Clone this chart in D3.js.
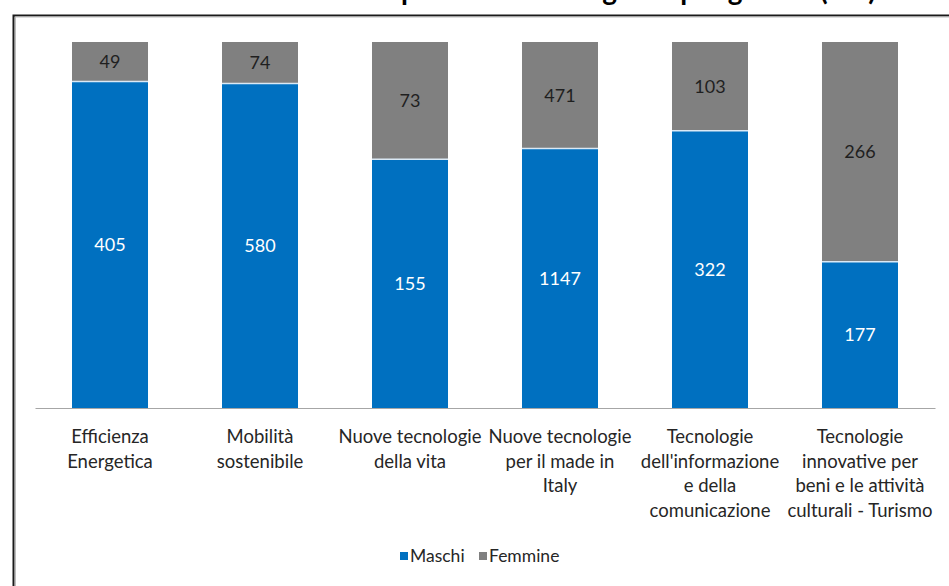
<!DOCTYPE html>
<html>
<head>
<meta charset="utf-8">
<script src="https://cdn.jsdelivr.net/npm/d3@7"></script>
<style>
  html, body { margin: 0; padding: 0; background: #fff; }
  svg { display: block; }
</style>
</head>
<body>
<svg id="chart" width="949" height="586"></svg>
<script>
const titleText = "Allievi iscritti per area tecnologica e per genere (v.a.)";
const categories = [
  "Efficienza Energetica",
  "Mobilità sostenibile",
  "Nuove tecnologie della vita",
  "Nuove tecnologie per il made in Italy",
  "Tecnologie dell'informazione e della comunicazione",
  "Tecnologie innovative per beni e le attività culturali - Turismo"
];
const categoryLines = [
  ["Efficienza", "Energetica"],
  ["Mobilità", "sostenibile"],
  ["Nuove tecnologie", "della vita"],
  ["Nuove tecnologie", "per il made in", "Italy"],
  ["Tecnologie", "dell'informazione", "e della", "comunicazione"],
  ["Tecnologie", "innovative per", "beni e le attività", "culturali - Turismo"]
];
const maschi = [405, 580, 155, 1147, 322, 177];
const femmine = [49, 74, 73, 471, 103, 266];
const seriesNames = ["Maschi", "Femmine"];
const seriesColors = ["#0070C0", "#808080"];

const svg = d3.select("#chart");
const W = 949, H = 586;
const font = "Lato, 'Open Sans', sans-serif";

// title (clipped at the top edge, as in the reference)
svg.append("text")
  .attr("x", 876).attr("y", 0)
  .attr("text-anchor", "end")
  .attr("font-family", font)
  .attr("font-weight", "bold")
  .attr("font-size", 28)
  .attr("fill", "#000")
  .text(titleText);

// frame
svg.append("path")
  .attr("d", `M13.5,${H} V15.5 H${W}`)
  .attr("fill", "none").attr("stroke", "#1a1a1a").attr("stroke-width", 2);
svg.append("path")
  .attr("d", `M15.5,${H} V17 H${W}`)
  .attr("fill", "none").attr("stroke", "#bdbdbd").attr("stroke-width", 1);

const x = d3.scaleBand()
  .domain(categories)
  .range([35, 935])
  .paddingInner(0.4933)
  .paddingOuter(0.2467);
const y = d3.scaleLinear().domain([0, 1]).range([408, 42]);

const data = categories.map((c, i) => {
  const tot = maschi[i] + femmine[i];
  return { cat: c, Maschi: maschi[i] / tot, Femmine: femmine[i] / tot, vals: [maschi[i], femmine[i]] };
});
const stacked = d3.stack().keys(seriesNames)(data);

const g = svg.append("g");
stacked.forEach((s, si) => {
  g.selectAll(null).data(s).enter().append("rect")
    .attr("x", d => x(d.data.cat))
    .attr("width", x.bandwidth())
    .attr("y", d => y(d[1]))
    .attr("height", d => y(d[0]) - y(d[1]))
    .attr("fill", seriesColors[si]);
  if (si === 1) {
    g.selectAll(null).data(s).enter().append("line")
      .attr("x1", d => x(d.data.cat))
      .attr("x2", d => x(d.data.cat) + x.bandwidth())
      .attr("y1", d => y(d[0]))
      .attr("y2", d => y(d[0]))
      .attr("stroke", "#dbe9f5").attr("stroke-width", 1.5);
  }
  g.selectAll(null).data(s).enter().append("text")
    .attr("x", d => x(d.data.cat) + x.bandwidth() / 2)
    .attr("y", d => (y(d[0]) + y(d[1])) / 2)
    .attr("dy", "0.35em")
    .attr("text-anchor", "middle")
    .attr("font-family", font)
    .attr("font-size", 18)
    .attr("fill", si === 0 ? "#ffffff" : "#1f1f1f")
    .text(d => d.data.vals[si]);
});

// axis
const axis = svg.append("g")
  .attr("transform", "translate(0,408)")
  .call(d3.axisBottom(x).tickSize(0).tickFormat(""));
axis.select(".domain").attr("stroke", "#a6a6a6").attr("stroke-width", 1.2);

const labels = svg.append("g");
categories.forEach((c, i) => {
  const cx = x(c) + x.bandwidth() / 2;
  const t = labels.append("text")
    .attr("x", cx)
    .attr("y", 443)
    .attr("text-anchor", "middle")
    .attr("font-family", font)
    .attr("font-size", 18.5)
    .attr("fill", "#262626");
  categoryLines[i].forEach((ln, j) => {
    t.append("tspan").attr("x", cx).attr("y", 443 + j * 24.5).text(ln);
  });
});

// legend
const legend = svg.append("g");
const legendX = [400, 479];
seriesNames.forEach((n, i) => {
  legend.append("rect")
    .attr("x", legendX[i]).attr("y", 552)
    .attr("width", 8).attr("height", 8)
    .attr("fill", seriesColors[i]);
  legend.append("text")
    .attr("x", legendX[i] + 10).attr("y", 562)
    .attr("font-family", font).attr("font-size", 17.5)
    .attr("fill", "#262626")
    .text(n);
});
</script>
</body>
</html>
